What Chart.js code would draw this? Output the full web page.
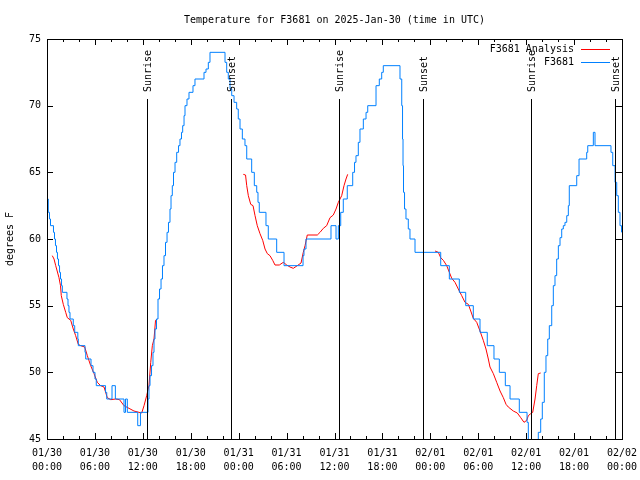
<!DOCTYPE html>
<html>
<head>
<meta charset="utf-8">
<title>Temperature for F3681</title>
<script src="https://cdn.jsdelivr.net/npm/chart.js@4.4.1/dist/chart.umd.min.js"></script>
<style>
  html, body { margin: 0; padding: 0; background: #fff; }
  #wrap { width: 640px; height: 480px; }
</style>
</head>
<body>
<div id="wrap"><canvas id="tempChart" width="640" height="480"></canvas></div>
<script>
const chartTitle = 'Temperature for F3681 on 2025-Jan-30 (time in UTC)';
const yTitle = 'degrees F';

// x axis is hours since 2025-01-30 00:00 UTC
const xTickHours = [0, 6, 12, 18, 24, 30, 36, 42, 48, 54, 60, 66, 72];
const xTickDates = ['01/30', '01/30', '01/30', '01/30', '01/31', '01/31', '01/31', '01/31', '02/01', '02/01', '02/01', '02/01', '02/02'];
const xTickTimes = ['00:00', '06:00', '12:00', '18:00', '00:00', '06:00', '12:00', '18:00', '00:00', '06:00', '12:00', '18:00', '00:00'];
const yTickValues = [45, 50, 55, 60, 65, 70, 75];

const sunriseHours = [12.56, 36.60, 60.57];
const sunsetHours = [23.04, 47.12, 71.16];

// observed temperature, each point holds until the next one
const observed = [
  [0, 63], [0.16, 62], [0.31, 61.5], [0.44, 61], [0.81, 60.5], [0.94, 60], [1.06, 59.5], [1.19, 59],
  [1.31, 58.5], [1.44, 58], [1.57, 57.5], [1.69, 57], [1.82, 56.5], [1.92, 56], [2.50, 55.5], [2.63, 55],
  [2.75, 54.5], [2.88, 54], [3.29, 53.5], [3.47, 53], [3.86, 52.5], [3.92, 52], [4.76, 51.5], [4.85, 51],
  [5.51, 50.5], [5.76, 50], [6.01, 49.5], [6.17, 49], [7.33, 48.5], [7.48, 48], [8.14, 49], [8.56, 48],
  [9.64, 47], [9.83, 48], [10.06, 47], [11.36, 46], [11.70, 47], [12.65, 48], [12.77, 49], [12.90, 49.75],
  [13.09, 50.5], [13.27, 51.5], [13.40, 52.5], [13.52, 53.25], [13.71, 54], [13.90, 55.5], [14.09, 56.25],
  [14.28, 57], [14.46, 58], [14.65, 58.75], [14.84, 59.75], [15.03, 60.5], [15.21, 61.25], [15.40, 62.25],
  [15.53, 63.25], [15.69, 64], [15.84, 65], [16.03, 65.75], [16.24, 66.5], [16.47, 67], [16.65, 67.5],
  [16.84, 68], [16.99, 68.5], [17.16, 69.25], [17.28, 70], [17.53, 70.5], [17.78, 71], [18.28, 71.5],
  [18.53, 72], [19.66, 72.5], [19.91, 72.75], [20.20, 73.25], [20.41, 74], [22.29, 73.25], [22.50, 72.5],
  [22.70, 72], [22.92, 71.25], [23.13, 70.75], [23.42, 70.25], [23.75, 69.75], [23.95, 69], [24.17, 68.25],
  [24.46, 67.5], [24.79, 67], [25.01, 66], [25.63, 65], [25.96, 64], [26.26, 63.5], [26.42, 62.75],
  [26.58, 62], [27.42, 61], [27.71, 60], [28.76, 59], [29.68, 58], [32.06, 58.75], [32.18, 59.25],
  [32.43, 60], [35.56, 61], [36.19, 60], [36.48, 61], [36.78, 62], [37.10, 63], [37.60, 64], [38.28, 65],
  [38.51, 65.75], [38.69, 66.25], [38.98, 67.25], [39.19, 68.25], [39.61, 69], [39.95, 69.5], [40.16, 70],
  [41.20, 71.5], [41.61, 72], [41.91, 72.5], [42.11, 73], [44.20, 72], [44.42, 70], [44.52, 67.5],
  [44.58, 65.5], [44.64, 63.5], [44.77, 62.25], [44.95, 61.5], [45.24, 60.75], [45.45, 60], [46.08, 59],
  [49.30, 58], [50.38, 57], [51.63, 56], [52.43, 55], [53.38, 54], [54.22, 53], [55.13, 52], [55.97, 51],
  [56.64, 50], [57.39, 49], [57.98, 48], [59.14, 47], [60.11, 46.25], [60.27, 44], [61.52, 45.5],
  [61.82, 46.5], [62.02, 47.75], [62.27, 50], [62.48, 51.25], [62.70, 52.5], [62.90, 53.5], [63.20, 55],
  [63.40, 56.5], [63.61, 57.25], [63.82, 58.5], [64.03, 59.5], [64.24, 60.1], [64.45, 60.75], [64.65, 61],
  [64.86, 61.25], [65.08, 61.75], [65.28, 62.5], [65.40, 64], [66.33, 64.75], [66.62, 66], [67.58, 66.5],
  [67.71, 67], [68.41, 68], [68.62, 67], [70.62, 66.5], [70.84, 65.5], [71.13, 64.25], [71.34, 63.25],
  [71.54, 62], [71.75, 61], [71.94, 60.5],
];

// analysis runs, one per day
const analysisDay1 = [
  [0.66, 58.75], [0.88, 58.5], [1.09, 58], [1.50, 57.1], [1.69, 56.5], [1.79, 55.75], [2.04, 55.1],
  [2.34, 54.5], [2.54, 54.1], [2.97, 53.9], [3.29, 53.25], [3.59, 52.75], [3.92, 52.1], [4.22, 52],
  [4.72, 51.9], [5.05, 51.25], [5.47, 50.5], [5.89, 49.9], [6.30, 49.25], [6.72, 49], [7.14, 48.9],
  [7.55, 48.1], [7.98, 47.95], [8.60, 48], [9.08, 47.95], [9.64, 47.5], [10.27, 47.3], [10.89, 47.1],
  [11.52, 47], [11.86, 46.95], [12.15, 47.5], [12.48, 48.25], [12.77, 49], [12.99, 50.75], [13.19, 52],
  [13.40, 52.5], [13.59, 53.9], [13.81, 54],
];
const analysisDay2 = [
  [24.58, 64.85], [24.86, 64.8], [25.01, 64], [25.21, 63.25], [25.51, 62.6], [25.80, 62.5], [26.05, 61.75],
  [26.33, 61], [26.67, 60.4], [27.01, 59.9], [27.30, 59.25], [27.59, 58.9], [27.92, 58.75], [28.26, 58.4],
  [28.55, 58.05], [29.09, 58.05], [29.59, 58.25], [30.02, 58.05], [30.43, 57.9], [30.84, 57.8], [31.34, 58],
  [31.81, 58.2], [32.09, 59], [32.31, 59.5], [32.59, 60.3], [33.85, 60.3], [34.19, 60.5], [34.60, 60.8],
  [35.02, 61], [35.44, 61.6], [35.85, 61.8], [36.19, 62.25], [36.48, 62.75], [36.90, 63.25], [37.19, 64],
  [37.44, 64.5], [37.65, 64.85],
];
const analysisDay3 = [
  [48.59, 59.1], [49.00, 59], [49.30, 58.6], [49.63, 58.4], [50.05, 58], [50.38, 57.5], [50.68, 57.05],
  [51.09, 56.75], [51.50, 56.25], [51.93, 55.75], [52.34, 55.25], [52.76, 55.1], [53.06, 54.6], [53.38, 54.05],
  [53.81, 53.75], [54.22, 53.1], [54.63, 52.4], [54.97, 51.75], [55.26, 51], [55.47, 50.4], [55.89, 49.9],
  [56.31, 49.25], [56.73, 48.6], [57.14, 48.1], [57.48, 47.6], [57.76, 47.4], [58.39, 47.1], [58.89, 46.95],
  [59.32, 46.6], [59.73, 46.25], [60.07, 46.4], [60.27, 46.75], [60.57, 46.9], [60.82, 47], [61.11, 48],
  [61.32, 49], [61.52, 49.9], [61.82, 49.95],
];

const FONT = '10px "DejaVu Sans Mono", "Liberation Mono", monospace';
const OBS_COLOR = '#0080ff';
const ANA_COLOR = '#ff0000';

function toPoints(pairs) {
  return pairs.map(([x, y]) => ({ x, y }));
}

function joinSegments(segments) {
  const out = [];
  segments.forEach((seg, i) => {
    if (i > 0) out.push({ x: seg[0][0] - 0.01, y: null });
    out.push(...toPoints(seg));
  });
  return out;
}

const crisp = (v) => Math.round(v) + 0.5;

const gnuplotFrame = {
  id: 'gnuplotFrame',
  afterDatasetsDraw(chart) {
    const { ctx, chartArea: a, scales: { x, y } } = chart;
    ctx.save();
    ctx.strokeStyle = '#000';
    ctx.fillStyle = '#000';
    ctx.lineWidth = 1;
    ctx.font = FONT;

    // sunrise / sunset markers
    const events = sunriseHours.map((h) => ['Sunrise', h]).concat(sunsetHours.map((h) => ['Sunset', h]));
    events.forEach(([label, h]) => {
      const px = crisp(x.getPixelForValue(h));
      ctx.beginPath();
      ctx.moveTo(px, a.bottom);
      ctx.lineTo(px, a.top + 60);
      ctx.stroke();
      ctx.save();
      ctx.translate(px + 1, a.top + 53);
      ctx.rotate(-Math.PI / 2);
      ctx.textAlign = 'left';
      ctx.textBaseline = 'middle';
      ctx.fillText(label, 0, 0);
      ctx.restore();
    });

    // border
    ctx.strokeRect(crisp(a.left), crisp(a.top), Math.round(a.right - a.left), Math.round(a.bottom - a.top));

    // x ticks every 2 hours, labels every 6
    ctx.beginPath();
    for (let h = 0; h <= 72; h += 2) {
      const px = crisp(x.getPixelForValue(h));
      const len = h % 6 === 0 ? 6 : 3;
      ctx.moveTo(px, a.bottom);
      ctx.lineTo(px, a.bottom - len);
      ctx.moveTo(px, a.top);
      ctx.lineTo(px, a.top + len);
    }
    yTickValues.forEach((v) => {
      const py = crisp(y.getPixelForValue(v));
      ctx.moveTo(a.left, py);
      ctx.lineTo(a.left + 6, py);
      ctx.moveTo(a.right, py);
      ctx.lineTo(a.right - 6, py);
    });
    ctx.stroke();

    ctx.textBaseline = 'middle';
    ctx.textAlign = 'center';
    xTickHours.forEach((h, i) => {
      const px = x.getPixelForValue(h);
      ctx.fillText(xTickDates[i], px, a.bottom + 14);
      ctx.fillText(xTickTimes[i], px, a.bottom + 28);
    });
    ctx.textAlign = 'right';
    yTickValues.forEach((v) => {
      ctx.fillText(String(v), a.left - 6, y.getPixelForValue(v));
    });

    // title and axis label
    ctx.textAlign = 'center';
    ctx.fillText(chartTitle, (a.left + a.right) / 2, 20);
    ctx.save();
    ctx.translate(10, (a.top + a.bottom) / 2);
    ctx.rotate(-Math.PI / 2);
    ctx.fillText(yTitle, 0, 0);
    ctx.restore();

    // key, top right inside the plot
    chart.data.datasets.forEach((ds, i) => {
      const ty = a.top + 10.5 + i * 13;
      ctx.textAlign = 'right';
      ctx.fillText(ds.label, 574, ty);
      ctx.strokeStyle = ds.borderColor;
      ctx.beginPath();
      ctx.moveTo(581, crisp(ty - 1));
      ctx.lineTo(610, crisp(ty - 1));
      ctx.stroke();
    });

    ctx.restore();
  },
};

new Chart(document.getElementById('tempChart'), {
  type: 'line',
  data: {
    datasets: [
      {
        label: 'F3681 Analysis',
        data: joinSegments([analysisDay1, analysisDay2, analysisDay3]),
        borderColor: ANA_COLOR,
        borderWidth: 1,
        pointRadius: 0,
        tension: 0,
        spanGaps: false,
        order: 2,
      },
      {
        label: 'F3681',
        data: toPoints(observed),
        borderColor: OBS_COLOR,
        borderWidth: 1,
        pointRadius: 0,
        stepped: 'before',
        order: 1,
      },
    ],
  },
  options: {
    responsive: false,
    animation: false,
    events: [],
    layout: { padding: { left: 47, right: 18, top: 39, bottom: 41 } },
    plugins: {
      legend: { display: false },
      title: { display: false },
      tooltip: { enabled: false },
    },
    scales: {
      x: { type: 'linear', min: 0, max: 72, display: false },
      y: { type: 'linear', min: 45, max: 75, display: false },
    },
  },
  plugins: [gnuplotFrame],
});
</script>
</body>
</html>
